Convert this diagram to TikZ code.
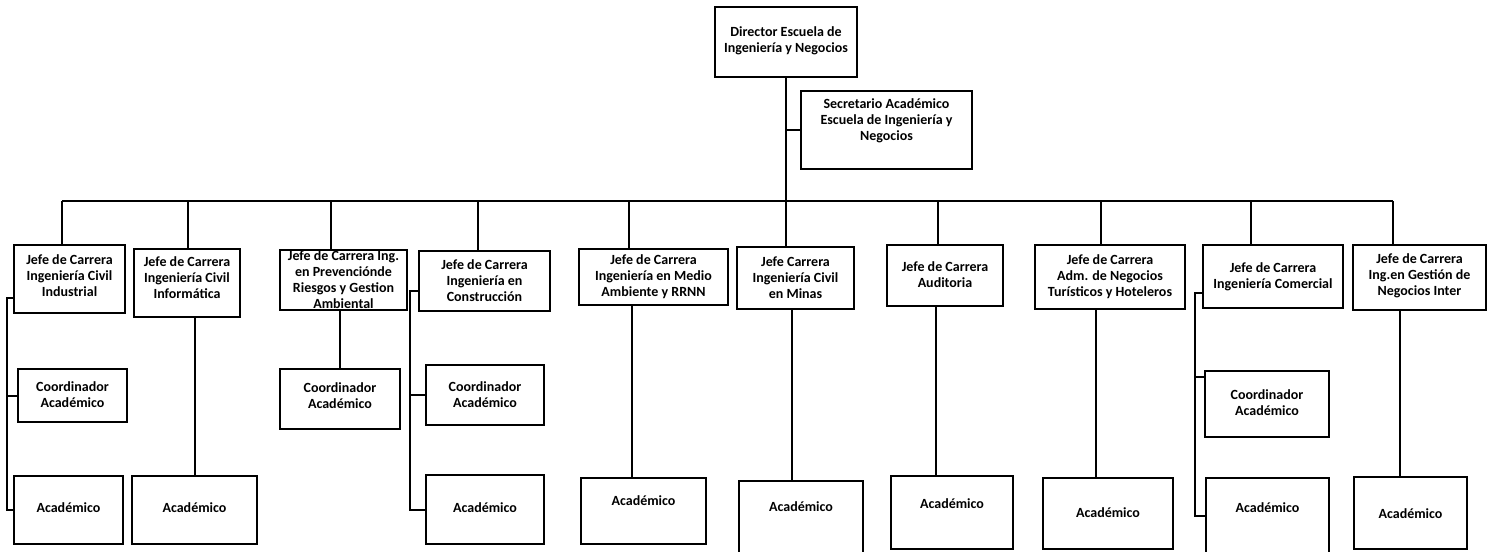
\documentclass[tikz,border=0pt]{standalone}
\usepackage{fontspec}
\setmainfont{Carlito}
\tikzset{
  box/.style={draw, line width=1.9pt, fill=white, inner sep=0pt},
  txt/.style={font=\fontsize{14}{16}\selectfont\bfseries, align=center, inner sep=0pt},
  ln/.style={line width=2pt}
}
\newcommand\obox[7]{%
  \pgfmathsetmacro\bw{#4-#2}\pgfmathsetmacro\bh{#5-#3}%
  \pgfmathsetmacro\cx{(#2+#4)/2}\pgfmathsetmacro\cy{(#3+#5)/2}%
  \node[box, minimum width=\bw pt, minimum height=\bh pt] (#1) at (\cx,\cy) {};%
  \node[txt] (#1t) at (\cx,#6) {#7};}
\begin{document}
\begin{tikzpicture}[x=1pt,y=-1pt]
\fill[white] (0,0) rectangle (1487,551);
\useasboundingbox (0,0) rectangle (1487,551);
% top
\obox{dir}{715}{7}{857}{77}{41}{Director Escuela de\\Ingeniería y Negocios}
\obox{sec}{801}{91}{972}{169}{121}{Secretario Académico\\Escuela de Ingeniería y\\Negocios}
% jefes
\obox{ind}{14}{245}{125}{313}{276}{Jefe de Carrera\\Ingeniería Civil\\Industrial}
\obox{inf}{134}{249}{240}{317}{278}{Jefe de Carrera\\Ingeniería Civil\\Informática}
\obox{prev}{280}{250}{407}{310}{280}{\fontsize{14}{15.5}\selectfont Jefe de Carrera Ing.\\en Prevenciónde\\Riesgos y Gestion\\Ambiental}
\obox{cons}{419}{251}{550}{311}{281}{Jefe de Carrera\\Ingeniería en\\Construcción}
\obox{ma}{579}{249}{728}{305}{277}{Jefe de Carrera\\Ingeniería en Medio\\Ambiente y RRNN}
\obox{min}{737}{247}{854}{309}{278}{Jefe Carrera\\Ingeniería Civil\\en Minas}
\obox{aud}{887}{245}{1003}{306}{275}{Jefe de Carrera\\Auditoria}
\obox{adm}{1035}{245}{1185}{309}{277}{Jefe de Carrera\\Adm. de Negocios\\Turísticos y Hoteleros}
\obox{com}{1203}{245}{1343}{308}{277}{Jefe de Carrera\\Ingeniería Comercial}
\obox{ges}{1353}{245}{1486}{310}{276}{Jefe de Carrera\\Ing.en Gestión de\\Negocios Inter}
% lower
\obox{co1}{18}{369}{127}{422}{395}{Coordinador\\Académico}
\obox{ac1}{14}{476}{123}{544}{508}{Académico}
\obox{ac2}{132}{476}{257}{544}{508}{Académico}
\obox{co3}{280}{369}{400}{429}{396}{Coordinador\\Académico}
\obox{co4}{426}{365}{544}{425}{395}{Coordinador\\Académico}
\obox{ac4}{426}{475}{544}{544}{508}{Académico}
\obox{ac5}{581}{478}{706}{544}{501}{Académico}
\obox{ac6}{739}{481}{863}{553}{507}{Académico}
\obox{ac7}{891}{476}{1013}{549}{504}{Académico}
\obox{ac8}{1043}{478}{1173}{549}{513}{Académico}
\obox{co9}{1205}{371}{1329}{437}{403}{Coordinador\\Académico}
\obox{ac9}{1206}{478}{1329}{553}{508}{Académico}
\obox{ac10}{1354}{477}{1467}{549}{514}{Académico}
% coordinates
\coordinate (d1) at (62,201);
\coordinate (d2) at (188,201);
\coordinate (d3) at (331,201);
\coordinate (d4) at (478,201);
\coordinate (d5) at (629,201);
\coordinate (d7) at (938,201);
\coordinate (d8) at (1101,201);
\coordinate (d9) at (1251,201);
\coordinate (d10) at (1393,201);
\coordinate (x5) at (632,0);
\coordinate (x6) at (792,0);
\coordinate (x7) at (936,0);
\coordinate (x8) at (1096,0);
\coordinate (x10) at (1400,0);
\coordinate (l1) at (7,298);
\coordinate (l4) at (410,291);
\coordinate (l9) at (1195,293);
\coordinate (c9) at (1195,377);
% connectors
\draw[ln] (dir.south) -- (dir.south |- min.north);
\draw[ln] (dir.south |- sec.west) -- (sec.west);
\draw[ln] (d1) -- (d10);
\draw[ln] (d1) -- (d1 |- ind.north);
\draw[ln] (d2) -- (d2 |- inf.north);
\draw[ln] (d3) -- (d3 |- prev.north);
\draw[ln] (d4) -- (d4 |- cons.north);
\draw[ln] (d5) -- (d5 |- ma.north);
\draw[ln] (d7) -- (d7 |- aud.north);
\draw[ln] (d8) -- (d8 |- adm.north);
\draw[ln] (d9) -- (d9 |- com.north);
\draw[ln] (d10) -- (d10 |- ges.north);
% lower connectors
\draw[ln] (l1 -| ind.west) -- (l1) |- (ac1.west);
\draw[ln] (l1 |- co1.west) -- (co1.west);
\draw[ln] (ac2.north |- inf.south) -- (ac2.north);
\draw[ln] (co3.north |- prev.south) -- (co3.north);
\draw[ln] (l4 -| cons.west) -- (l4) |- (ac4.west);
\draw[ln] (l4 |- co4.west) -- (co4.west);
\draw[ln] (x5 |- ma.south) -- (x5 |- ac5.north);
\draw[ln] (x6 |- min.south) -- (x6 |- ac6.north);
\draw[ln] (x7 |- aud.south) -- (x7 |- ac7.north);
\draw[ln] (x8 |- adm.south) -- (x8 |- ac8.north);
\draw[ln] (l9 -| com.west) -- (l9) |- (ac9.west);
\draw[ln] (c9) -- (c9 -| co9.west);
\draw[ln] (x10 |- ges.south) -- (x10 |- ac10.north);
\end{tikzpicture}
\end{document}
